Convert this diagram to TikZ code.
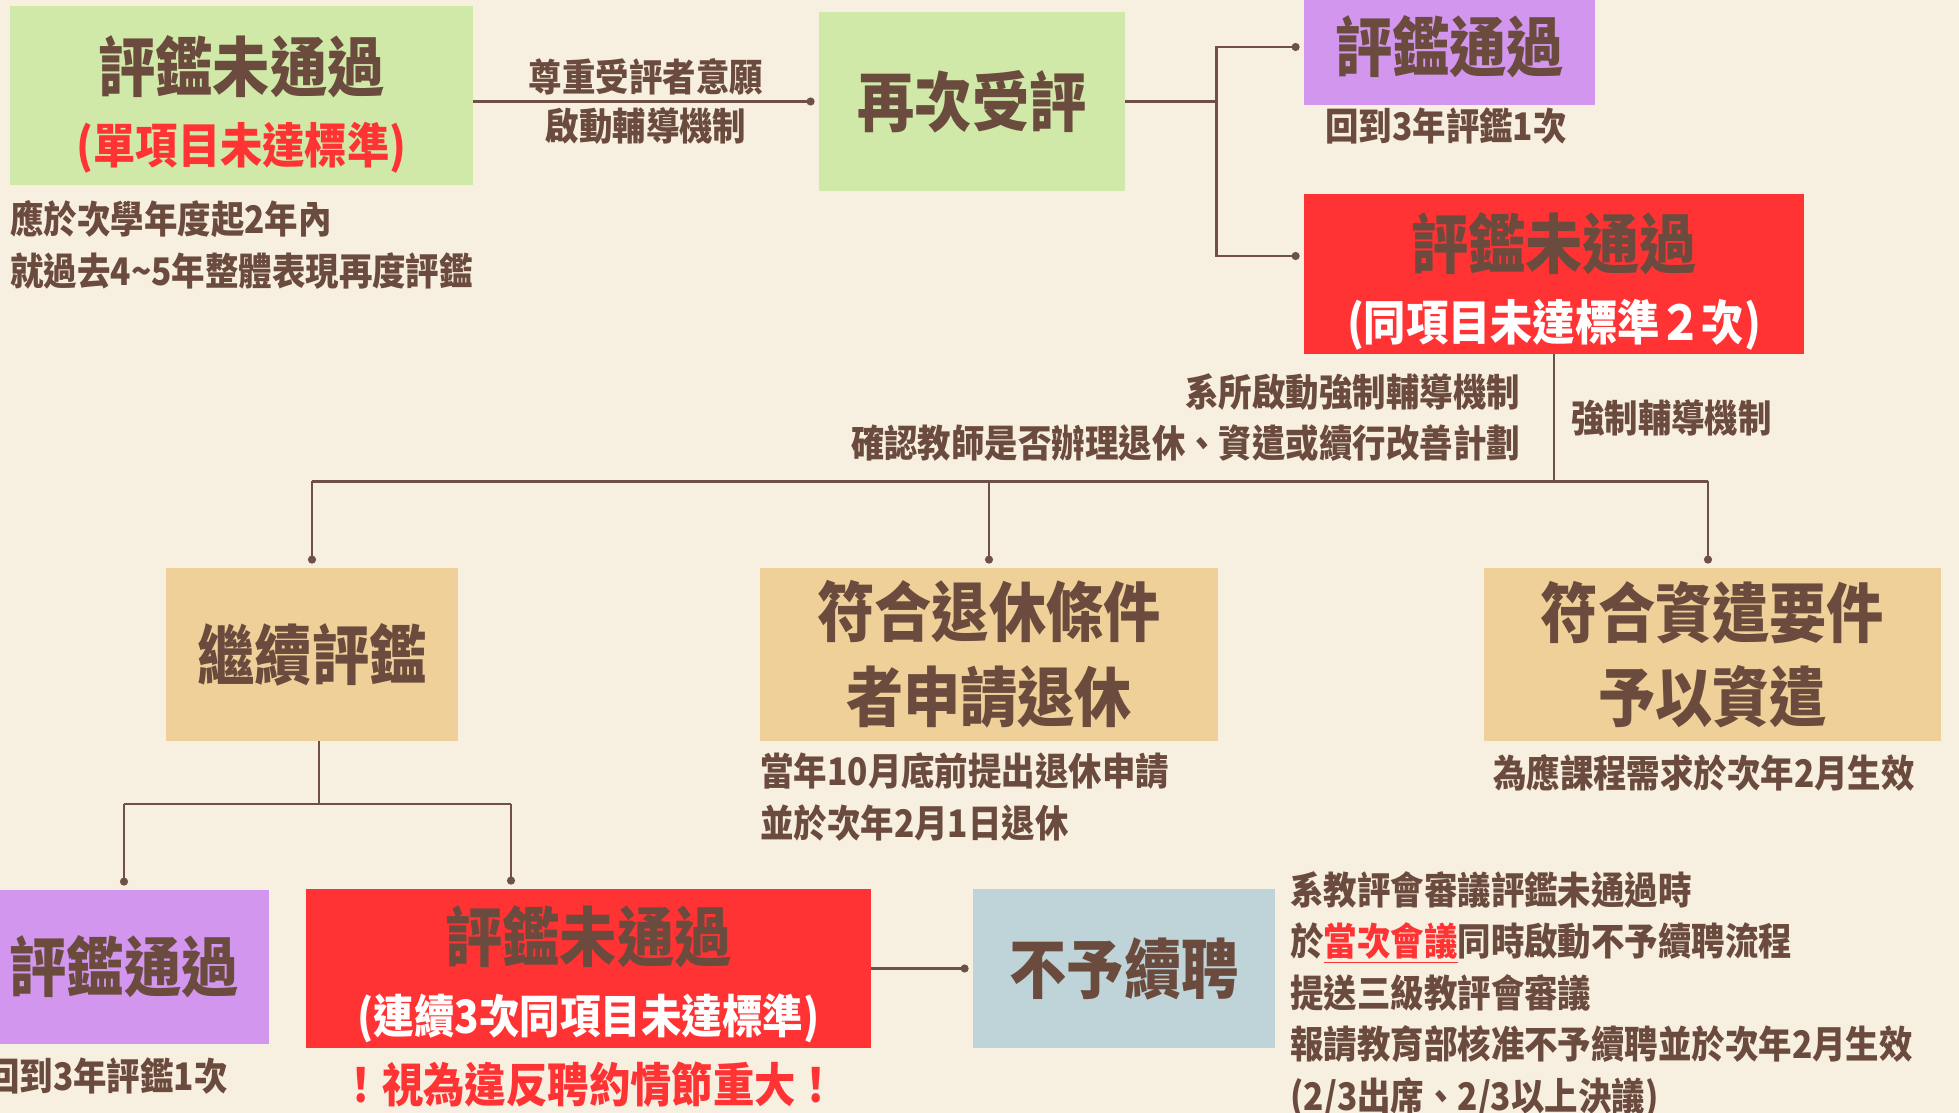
\documentclass[tikz,border=0pt]{standalone}
\usepackage{fontspec}
\setmainfont{Noto Sans CJK TC}[FakeStretch=0.88]
\usetikzlibrary{arrows.meta,positioning,calc}

\definecolor{paper}{HTML}{F7EFE0}
\definecolor{ink}{HTML}{6B4B3E}
\definecolor{wire}{HTML}{6E5046}
\definecolor{leaf}{HTML}{D0E9A8}
\definecolor{lilac}{HTML}{D296EE}
\definecolor{alarm}{HTML}{FF3333}
\definecolor{sand}{HTML}{EED098}
\definecolor{mist}{HTML}{BFD4D8}

\newcommand{\boxtitle}{\fontsize{32.5}{36}\selectfont\bfseries}
\newcommand{\boxsub}{\fontsize{24}{36}\selectfont\bfseries}
\newcommand{\notesize}{\fontsize{19}{26}\selectfont\bfseries}

\begin{document}
\begin{tikzpicture}[x=0.5pt, y=-0.5pt,
    box/.style={rectangle, inner sep=0pt, align=center, text=ink, font=\boxtitle},
    boxtext/.style={inner sep=0pt, align=center, text=ink, font=\boxtitle},
    note/.style={inner sep=0pt, align=left, text=ink, font=\notesize},
    cue/.style={inner sep=0pt, text=ink, font=\notesize},
    link/.style={draw=wire, line width=1.1pt},
    dotend/.style={-{Circle[length=4pt]}, shorten >=2pt}]
  \useasboundingbox (0,0) rectangle (1959,1113);
  \fill[paper] (0,0) rectangle (1959,1113);

  % Boxes
  \node[box, fill=leaf, minimum width=231.5pt, minimum height=89.5pt] (fail1) at (241.5,95.5) {};
  \node[boxtext] (fail1txt) at ([yshift=-4.5pt]fail1.center)
    {評鑑未通過\\{\boxsub\color{alarm}(單項目未達標準)}};
  \node[box, fill=leaf, minimum width=153pt, minimum height=89.5pt] (retry) at (972,101.5) {再次受評};
  \node[box, fill=lilac, minimum width=145.5pt, minimum height=58pt] (pass1) at (1449.5,47) {評鑑通過};
  \node[box, fill=alarm, minimum width=250pt, minimum height=80pt] (fail2) at (1554,274) {};
  \node[boxtext] (fail2txt) at ([yshift=-3.5pt]fail2.center)
    {評鑑未通過\\{\boxsub\color{white}(同項目未達標準２次)}};
  \node[box, fill=sand, minimum width=146pt, minimum height=86.5pt] (keep) at (312,654.5) {繼續評鑑};
  \node[box, fill=sand, minimum width=229pt, minimum height=86.5pt, font=\fontsize{32.5}{42.5}\selectfont\bfseries] (retire) at (989,654.5)
    {符合退休條件\\者申請退休};
  \node[box, fill=sand, minimum width=228.5pt, minimum height=86.5pt, font=\fontsize{32.5}{42}\selectfont\bfseries] (quit) at (1712.5,654.5)
    {符合資遣要件\\予以資遣};
  \node[box, fill=lilac, minimum width=145pt, minimum height=77pt] (pass2) at (124,967) {評鑑通過};
  \node[box, fill=alarm, minimum width=282.5pt, minimum height=79.5pt] (fail3) at (588.5,968.5) {};
  \node[boxtext] (fail3txt) at ([yshift=-3pt]fail3.center)
    {評鑑未通過\\{\fontsize{23}{36}\selectfont\color{white}(連續3次同項目未達標準)}};
  \node[box, fill=mist, minimum width=151pt, minimum height=79.5pt] (drop) at (1124,968.5) {不予續聘};

  % Notes
  \node[note, anchor=north west] (whenA) at (10,200) {應於次學年度起2年內\\就過去4\textasciitilde5年整體表現再度評鑑};
  \node[note, anchor=north west] (backC) at (1325,107) {回到3年評鑑1次};
  \node[note, anchor=north west] (whenF) at (760,752) {當年10月底前提出退休申請\\並於次年2月1日退休};
  \node[note, anchor=north] (whenG) at (1704,754) {為應課程需求於次年2月生效};
  \node[note, anchor=north east] (backH) at (228,1057) {回到3年評鑑1次};
  \node[note, text=alarm, font=\fontsize{23.5}{30}\selectfont\bfseries] (warn) at (589,1085) {！視為違反聘約情節重大！};
  \node[note, anchor=north west, font=\fontsize{19}{25.75}\selectfont\bfseries] (stepsJ) at (1290,871)
    {系教評會審議評鑑未通過時\\於{\color{alarm}\underline{當次會議}}同時啟動不予續聘流程\\提送三級教評會審議\\報請教育部核准不予續聘並於次年2月生效\\(2/3出席、2/3以上決議)};

  % Connectors
  \draw[link, dotend] (fail1.east |- retry.west) --
    node[cue, above=2.75pt] (askA) {尊重受評者意願}
    node[cue, below=2.75pt] (askB) {啟動輔導機制} (retry.west);

  \path (retry.east) ++(91,0) coordinate (fork1);
  \draw[link] (retry.east) -- (fork1);
  \draw[link, dotend] (fork1) |- (pass1.west);
  \draw[link, dotend] (fork1) |- ([yshift=9pt]fail2.west);

  \path (fail2.south) ++(0,127) coordinate (hub);
  \draw[link] (fail2.south) -- (hub)
    node[cue, midway, left=16.5pt, align=right, font=\fontsize{19}{25.5}\selectfont\bfseries] (dept)
      {系所啟動強制輔導機制\\確認教師是否辦理退休、資遣或續行改善計劃}
    node[cue, midway, right=8pt] (force) {強制輔導機制};
  \draw[link] (keep.north |- hub) -- ([xshift=-2.25pt]quit.north |- hub);
  \draw[link, dotend] (keep.north |- hub) -- (keep.north);
  \draw[link, dotend] (retire.north |- hub) -- (retire.north);
  \draw[link, dotend] ([xshift=-2.25pt]quit.north |- hub) -- ([xshift=-2.25pt]quit.north);

  \path ([xshift=3.5pt]keep.south) ++(0,63) coordinate (split);
  \coordinate (toH) at (124,804);
  \coordinate (toI) at (511,804);
  \draw[link] ([xshift=3.5pt]keep.south) -- (split);
  \draw[link] (toH) -- (toI);
  \draw[link, dotend] (toH) -- (toH |- pass2.north);
  \draw[link, dotend] (toI) -- (toI |- fail3.north);

  \draw[link, dotend] (fail3.east) -- (drop.west);
\end{tikzpicture}
\end{document}
